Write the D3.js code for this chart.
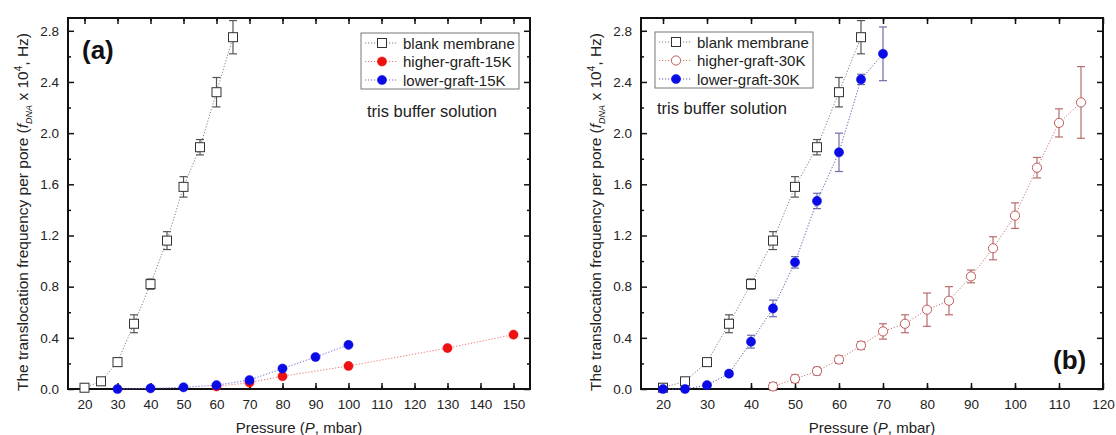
<!DOCTYPE html>
<html>
<head>
<meta charset="utf-8">
<script src="https://cdn.jsdelivr.net/npm/d3@7"></script>
<style>
  body { margin: 0; background: #fff; }
  svg { display: block; font-family: Arial, "Liberation Sans", sans-serif; }
  .tick text { font-size: 13.5px; fill: #222; }
  .domain { display: none; }
</style>
</head>
<body>
<svg id="chart" width="1116" height="435"></svg>
<script>
// pressure values (mbar)
const pBlank = [20, 25, 30, 35, 40, 45, 50, 55, 60, 65];
const fBlank = [0.01, 0.06, 0.21, 0.51, 0.82, 1.16, 1.58, 1.89, 2.32, 2.75];
const eBlank = [0.03, 0.03, 0.03, 0.07, 0.04, 0.07, 0.08, 0.06, 0.115, 0.13];

// panel (a)
const pHigh15 = [60, 70, 80, 100, 130, 150];
const fHigh15 = [0.02, 0.05, 0.10, 0.18, 0.32, 0.425];
const pLow15 = [30, 40, 50, 60, 70, 80, 90, 100];
const fLow15 = [0.0, 0.005, 0.013, 0.03, 0.07, 0.16, 0.25, 0.345];

// panel (b)
const pHigh30 = [45, 50, 55, 60, 65, 70, 75, 80, 85, 90, 95, 100, 105, 110, 115];
const fHigh30 = [0.02, 0.08, 0.14, 0.23, 0.34, 0.45, 0.51, 0.62, 0.69, 0.88, 1.10, 1.355, 1.73, 2.08, 2.24];
const eHigh30 = [0.03, 0.03, 0.03, 0.03, 0.03, 0.06, 0.07, 0.13, 0.11, 0.05, 0.09, 0.10, 0.08, 0.11, 0.28];
const pLow30 = [20, 25, 30, 35, 40, 45, 50, 55, 60, 65, 70];
const fLow30 = [0.0, 0.0, 0.03, 0.12, 0.37, 0.63, 0.99, 1.47, 1.85, 2.42, 2.62];
const eLow30 = [0.02, 0.02, 0.02, 0.02, 0.05, 0.065, 0.045, 0.06, 0.15, 0.04, 0.21];

const yTicks = [0.0, 0.4, 0.8, 1.2, 1.6, 2.0, 2.4, 2.8];
const xTicksA = [20, 30, 40, 50, 60, 70, 80, 90, 100, 110, 120, 130, 140, 150];
const xTicksB = [20, 30, 40, 50, 60, 70, 80, 90, 100, 110, 120];

const zip = (xs, ys, es) => xs.map((x, i) => ({ x, y: ys[i], e: es ? es[i] : 0 }));

const style = {
  blank: { shape: "square", stroke: "#333", fill: "#fff", line: "#808080", err: "#555" },
  high15: { shape: "circle", stroke: "#ee1111", fill: "#ee1111", line: "#ee7777", err: "#ee1111" },
  low15: { shape: "circle", stroke: "#0b0be6", fill: "#0b0be6", line: "#6a6ad0", err: "#0b0be6" },
  high30: { shape: "circle", stroke: "#c05a5a", fill: "#fff", line: "#cc7777", err: "#b86c6c" },
  low30: { shape: "circle", stroke: "#0b0be6", fill: "#0b0be6", line: "#5a5aa8", err: "#6e6eaa" }
};

const svg = d3.select("#chart");

function drawPanel(opt) {
  const x = d3.scaleLinear().domain(opt.xDomain).range([opt.left, opt.right]);
  const y = d3.scaleLinear().domain([0, 2.9]).range([389, 18]);
  const g = svg.append("g");

  // minor ticks
  const xMinor = d3.range(opt.xDomain[0] + 5, opt.xDomain[1], 10);
  const yMinor = d3.range(0.2, 2.9, 0.4);
  const addAxis = (axis, tr, labels) => {
    const a = g.append("g").attr("transform", tr).call(axis);
    a.selectAll(".tick line").attr("stroke", "#111").attr("stroke-width", 1.5);
    if (!labels) a.selectAll(".tick text").remove();
    return a;
  };
  addAxis(d3.axisBottom(x).tickValues(opt.xTicks).tickSize(-6).tickPadding(10).tickFormat(d3.format("d")), "translate(0,389)", true);
  addAxis(d3.axisBottom(x).tickValues(xMinor).tickSize(-3), "translate(0,389)", false);
  addAxis(d3.axisTop(x).tickValues(opt.xTicks).tickSize(-6), "translate(0,18)", false);
  addAxis(d3.axisTop(x).tickValues(xMinor).tickSize(-3), "translate(0,18)", false);
  addAxis(d3.axisLeft(y).tickValues(yTicks).tickSize(-6).tickPadding(9).tickFormat(d3.format(".1f")), `translate(${opt.left},0)`, true);
  addAxis(d3.axisLeft(y).tickValues(yMinor).tickSize(-3), `translate(${opt.left},0)`, false);
  addAxis(d3.axisRight(y).tickValues(yTicks).tickSize(-6), `translate(${opt.right},0)`, false);
  addAxis(d3.axisRight(y).tickValues(yMinor).tickSize(-3), `translate(${opt.right},0)`, false);

  g.append("rect").attr("x", opt.left).attr("y", 18)
    .attr("width", opt.right - opt.left).attr("height", 371)
    .attr("fill", "none").attr("stroke", "#111").attr("stroke-width", 2);

  const line = d3.line().x(d => x(d.x)).y(d => y(d.y));

  opt.series.forEach(s => {
    const st = style[s.key];
    const eb = g.append("g");
    s.data.filter(d => d.e > 0).forEach(d => {
      eb.append("line").attr("x1", x(d.x)).attr("x2", x(d.x))
        .attr("y1", y(d.y - d.e)).attr("y2", y(d.y + d.e))
        .attr("stroke", st.err).attr("stroke-width", 1.2);
      [d.y - d.e, d.y + d.e].forEach(v => {
        eb.append("line").attr("x1", x(d.x) - 4).attr("x2", x(d.x) + 4)
          .attr("y1", y(v)).attr("y2", y(v))
          .attr("stroke", st.err).attr("stroke-width", 1.2);
      });
    });
  });

  opt.series.forEach(s => {
    const st = style[s.key];
    g.append("path").datum(s.data).attr("d", line)
      .attr("fill", "none").attr("stroke", st.line)
      .attr("stroke-width", 1).attr("stroke-dasharray", "1.2,1.8");
  });

  opt.series.forEach(s => {
    const st = style[s.key];
    s.data.forEach(d => drawMarker(g, st, x(d.x), y(d.y)));
  });

  // legend
  const L = opt.legend;
  g.append("rect").attr("x", L.x).attr("y", L.y).attr("width", 158).attr("height", 56)
    .attr("fill", "#fff").attr("stroke", "#777").attr("stroke-width", 1);
  opt.series.forEach((s, i) => {
    const st = style[s.key];
    const cy = L.y + 10 + i * 18.5;
    g.append("line").attr("x1", L.x + 4).attr("x2", L.x + 36).attr("y1", cy).attr("y2", cy)
      .attr("stroke", st.line).attr("stroke-width", 1).attr("stroke-dasharray", "1.2,1.8");
    drawMarker(g, st, L.x + 21, cy);
    g.append("text").attr("x", L.x + 42).attr("y", cy + 5.5)
      .attr("font-size", 15).attr("fill", "#222").text(s.label);
  });

  g.append("text").attr("x", opt.note[0]).attr("y", opt.note[1])
    .attr("font-size", 16.5).attr("fill", "#222").text("tris buffer solution");

  g.append("text").attr("x", opt.tag[0]).attr("y", opt.tag[1])
    .attr("font-size", 26).attr("font-weight", "bold").attr("fill", "#111").text(opt.tagText);

  // axis titles
  const cx = (opt.left + opt.right) / 2;
  const xt = g.append("text").attr("x", cx).attr("y", 433).attr("text-anchor", "middle")
    .attr("font-size", 15).attr("fill", "#222");
  xt.append("tspan").text("Pressure (");
  xt.append("tspan").attr("font-style", "italic").text("P");
  xt.append("tspan").text(", mbar)");

  const yt = g.append("text").attr("transform", `translate(${opt.left - 40},212) rotate(-90)`)
    .attr("text-anchor", "middle").attr("font-size", 15.5).attr("fill", "#222");
  yt.append("tspan").text("The translocation frequency per pore (");
  yt.append("tspan").attr("font-style", "italic").text("f");
  yt.append("tspan").attr("font-style", "italic").attr("font-size", 9).attr("dy", 4).text("DNA");
  yt.append("tspan").attr("dy", -4).text(" x 10");
  yt.append("tspan").attr("font-size", 10).attr("dy", -6).text("4");
  yt.append("tspan").attr("dy", 6).text(", Hz)");
}

function drawMarker(g, st, cx, cy) {
  if (st.shape === "square") {
    g.append("rect").attr("x", cx - 4.5).attr("y", cy - 4.5).attr("width", 9).attr("height", 9)
      .attr("fill", st.fill).attr("stroke", st.stroke).attr("stroke-width", 1);
  } else {
    g.append("circle").attr("cx", cx).attr("cy", cy).attr("r", 4.6)
      .attr("fill", st.fill).attr("stroke", st.stroke).attr("stroke-width", st.fill === "#fff" ? 1 : 0.5);
  }
}

drawPanel({
  left: 68, right: 530, xDomain: [15, 155], xTicks: xTicksA,
  series: [
    { key: "blank", label: "blank membrane", data: zip(pBlank, fBlank, eBlank) },
    { key: "high15", label: "higher-graft-15K", data: zip(pHigh15, fHigh15) },
    { key: "low15", label: "lower-graft-15K", data: zip(pLow15, fLow15) }
  ],
  legend: { x: 361, y: 33 },
  note: [367, 117],
  tag: [82, 59], tagText: "(a)"
});

drawPanel({
  left: 641, right: 1103, xDomain: [15, 120], xTicks: xTicksB,
  series: [
    { key: "blank", label: "blank membrane", data: zip(pBlank, fBlank, eBlank) },
    { key: "high30", label: "higher-graft-30K", data: zip(pHigh30, fHigh30, eHigh30) },
    { key: "low30", label: "lower-graft-30K", data: zip(pLow30, fLow30, eLow30) }
  ],
  legend: { x: 655, y: 32 },
  note: [657, 114],
  tag: [1053, 369], tagText: "(b)"
});
</script>
</body>
</html>
